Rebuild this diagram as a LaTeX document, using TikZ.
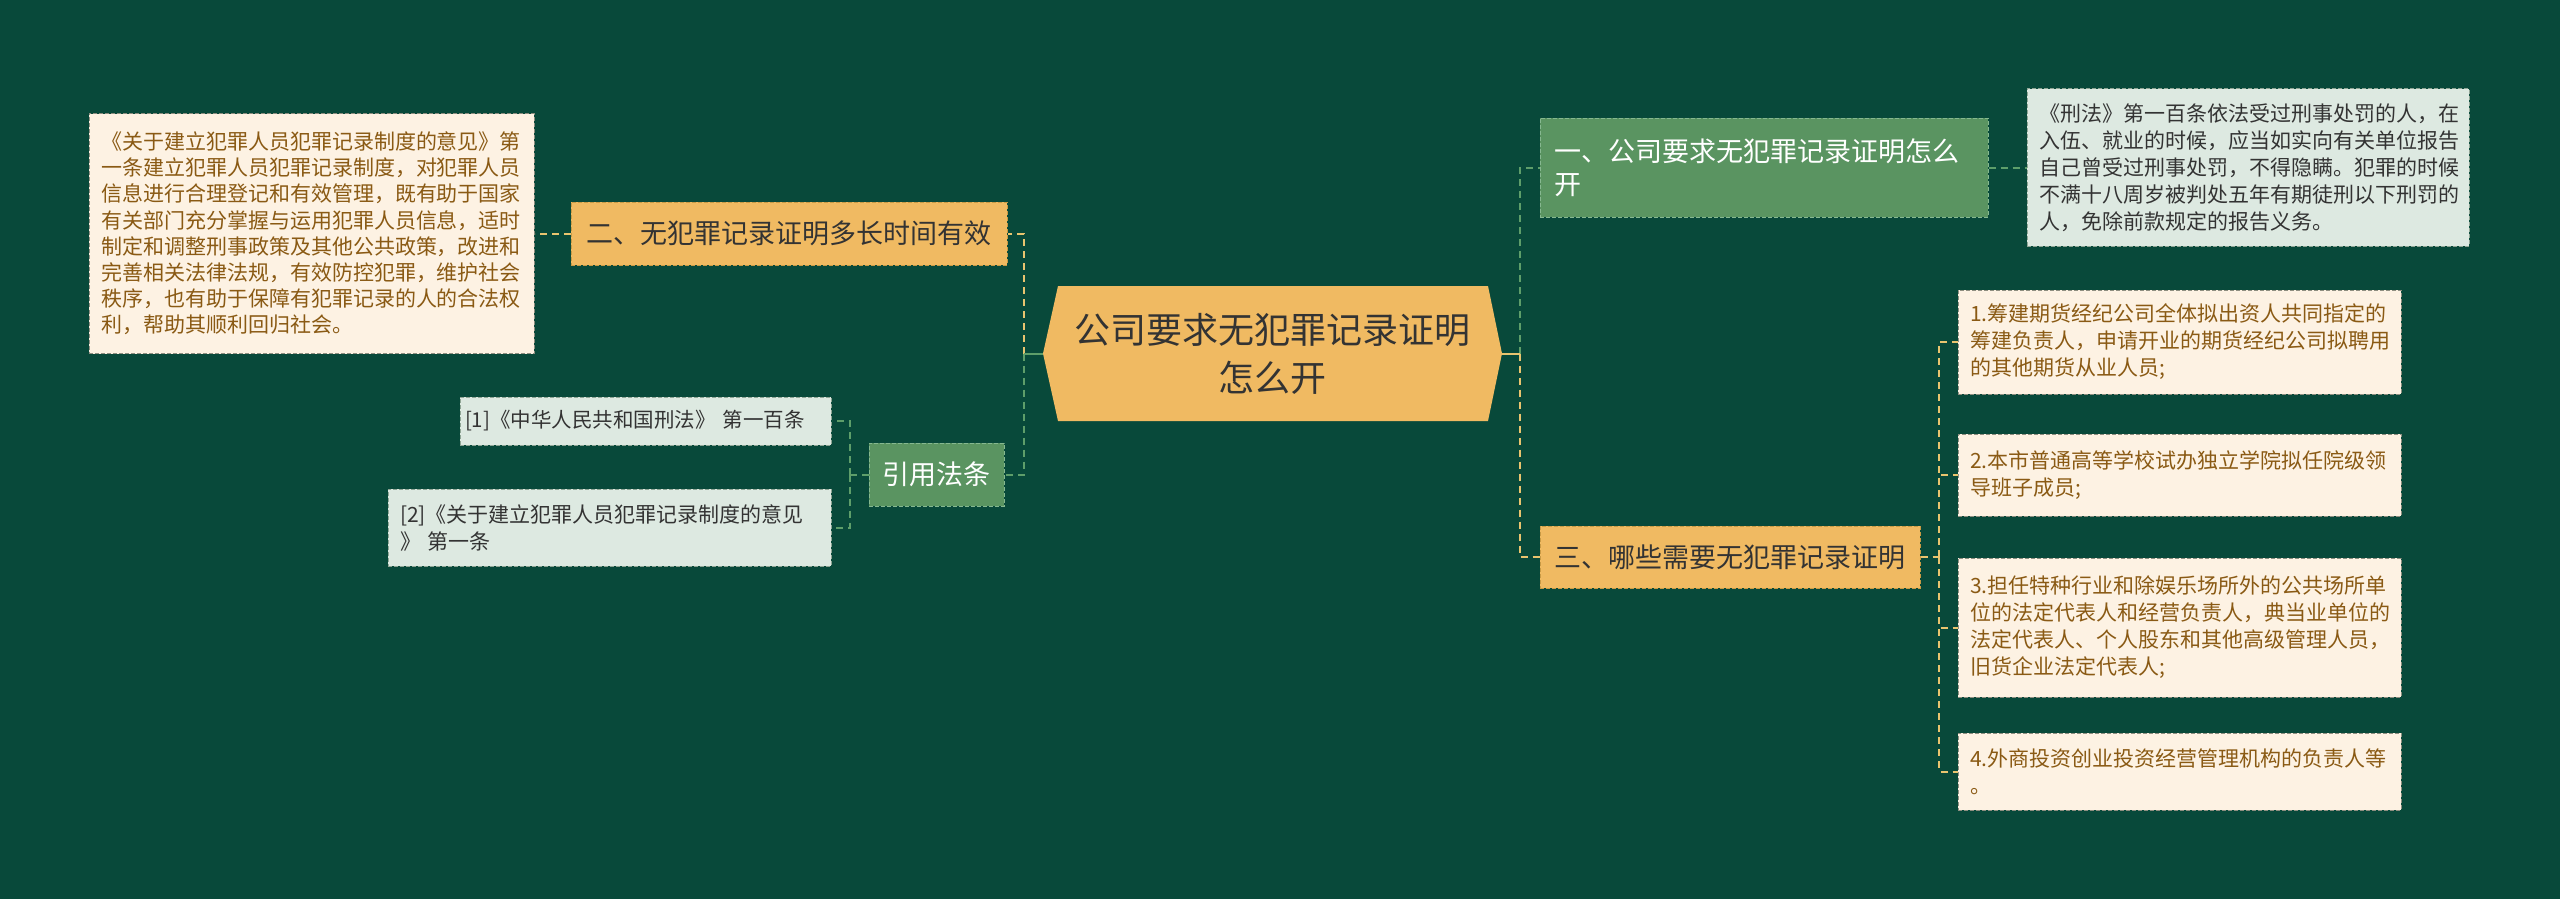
\documentclass[tikz,border=0pt]{standalone}
\usepackage{fontspec}
\setmainfont{Noto Sans CJK SC}
\definecolor{bg}{HTML}{08493A}
\definecolor{gold}{HTML}{F0BA62}
\definecolor{goldedge}{HTML}{C99A45}
\definecolor{goldline}{HTML}{E9C46F}
\definecolor{gnode}{HTML}{5A9461}
\definecolor{gedge}{HTML}{86B890}
\definecolor{gline}{HTML}{5E9E6A}
\definecolor{cream}{HTML}{FDF2E3}
\definecolor{creamedge}{HTML}{8E8E80}
\definecolor{creamtext}{HTML}{8A5A14}
\definecolor{lgleaf}{HTML}{DDE9E1}
\definecolor{lgedge}{HTML}{8FA595}
\definecolor{darktext}{HTML}{333333}
\begin{document}
\begin{tikzpicture}[x=1pt,y=-1pt,
  edgedash/.style={line width=1pt, dash pattern=on 4pt off 2pt},
  goldbox/.style={fill=gold, draw=goldedge, edgedash, text=darktext, inner sep=0pt, anchor=center,
    font=\fontsize{27}{33}\selectfont},
  greenbox/.style={fill=gnode, draw=gedge, edgedash, text=white, inner sep=0pt, anchor=center,
    font=\fontsize{27}{33}\selectfont},
  creamleaf/.style={fill=cream, draw=creamedge, edgedash, text=creamtext, inner xsep=12pt, inner ysep=0pt,
    align=left, anchor=center, font=\fontsize{21}{27}\selectfont},
  greenleaf/.style={fill=lgleaf, draw=lgedge, edgedash, text=darktext, inner xsep=12pt, inner ysep=0pt,
    align=left, anchor=center, font=\fontsize{21}{27}\selectfont},
  yconn/.style={draw=goldline, line width=2pt, dash pattern=on 7pt off 5pt},
  gconn/.style={draw=gline, line width=2pt, dash pattern=on 7pt off 5pt},
  ysolid/.style={draw=goldline, line width=2pt},
  gsolid/.style={draw=gline, line width=2pt}]
\fill[bg] (0,0) rectangle (2560,899);
\useasboundingbox (0,0) rectangle (2560,899);

% central hexagon
\fill[gold] (1043,353.5) -- (1058,286) -- (1488,286) -- (1502,353.5) -- (1488,421) -- (1058,421) -- cycle;
\node[inner sep=0pt, minimum width=459pt, minimum height=135pt, text width=440pt, align=center,
  text=darktext, font=\fontsize{36}{48}\selectfont] (ctr) at (1272.5,353.5) {公司要求无犯罪记录证明\\怎么开};

% main branches
\node[goldbox, minimum width=436pt, minimum height=63pt] (n2) at (789,233.5) {二、无犯罪记录证明多长时间有效};
\node[greenbox, minimum width=135pt, minimum height=63pt] (nyy) at (936.5,474.5) {引用法条};
\node[greenbox, minimum height=99pt, text width=420pt, inner xsep=14pt, align=left] (n1) at (1764,167.5)
  {一、公司要求无犯罪记录证明怎么\\开};
\node[goldbox, minimum width=380pt, minimum height=62pt] (n3) at (1730,557) {三、哪些需要无犯罪记录证明};

% leaves
\node[creamleaf, text width=421pt, minimum height=240pt, font=\fontsize{21}{26.2}\selectfont] (leafL) at (311.5,233.5)
{《关于建立犯罪人员犯罪记录制度的意见》第\\
一条建立犯罪人员犯罪记录制度，对犯罪人员\\
信息进行合理登记和有效管理，既有助于国家\\
有关部门充分掌握与运用犯罪人员信息，适时\\
制定和调整刑事政策及其他公共政策，改进和\\
完善相关法律法规，有效防控犯罪，维护社会\\
秩序，也有助于保障有犯罪记录的人的合法权\\
利，帮助其顺利回归社会。};

\node[greenleaf, text width=361pt, inner xsep=5pt, minimum height=48pt, font=\fontsize{20.5}{27}\selectfont] (ref1) at (645.5,421)
{\mbox{[1]《中华人民共和国刑法》 第一百条}};
\node[greenleaf, text width=419pt, minimum height=77pt] (ref2) at (609.5,527.5)
{[2]《关于建立犯罪人员犯罪记录制度的意见\\》 第一条};

\node[greenleaf, text width=418pt, minimum height=157pt] (leafR) at (2248,167.5)
{《刑法》第一百条依法受过刑事处罚的人，在\\
入伍、就业的时候，应当如实向有关单位报告\\
自己曾受过刑事处罚，不得隐瞒。犯罪的时候\\
不满十八周岁被判处五年有期徒刑以下刑罚的\\
人，免除前款规定的报告义务。};

\node[creamleaf, text width=419pt, minimum height=104pt] (L1) at (2179.5,342)
{1.筹建期货经纪公司全体拟出资人共同指定的\\
筹建负责人，申请开业的期货经纪公司拟聘用\\
的其他期货从业人员;};
\node[creamleaf, text width=419pt, minimum height=82pt] (L2) at (2179.5,475)
{2.本市普通高等学校试办独立学院拟任院级领\\
导班子成员;};
\node[creamleaf, text width=419pt, minimum height=139pt] (L3) at (2179.5,627.5)
{3.担任特种行业和除娱乐场所外的公共场所单\\
位的法定代表人和经营负责人，典当业单位的\\
法定代表人、个人股东和其他高级管理人员，\\
旧货企业法定代表人;};
\node[creamleaf, text width=419pt, minimum height=77pt] (L4) at (2179.5,771.5)
{4.外商投资创业投资经营管理机构的负责人等\\
。};

% junction coordinates
\coordinate (lj) at (1024,353.5);
\coordinate (rj) at (1520,353.5);
\coordinate (yj) at (850,474.5);
\coordinate (tj) at (1939,557);

% connectors
\draw[yconn] (lj) |- (n2.east);
\draw[gconn] (lj) |- (nyy.east);
\draw[gsolid] (ctr.west) -- (lj);
\draw[gconn] (rj) |- (n1.west);
\draw[yconn] (rj) |- (n3.west);
\draw[ysolid] (ctr.east) -- (rj);

\draw[yconn] (n2.west) -- (n2.west -| leafL.east);
\draw[gconn] (nyy.west) -- (yj);
\draw[gconn] (yj) |- (ref1.east);
\draw[gconn] (yj) |- (ref2.east);
\draw[gconn] (n1.east) -- (n1.east -| leafR.west);
\draw[yconn] (n3.east) -- (tj);
\draw[yconn] (tj) |- (L1.west);
\draw[yconn] (tj) |- (L2.west);
\draw[yconn] (tj) |- (L3.west);
\draw[yconn] (tj) |- (L4.west);
\end{tikzpicture}
\end{document}
